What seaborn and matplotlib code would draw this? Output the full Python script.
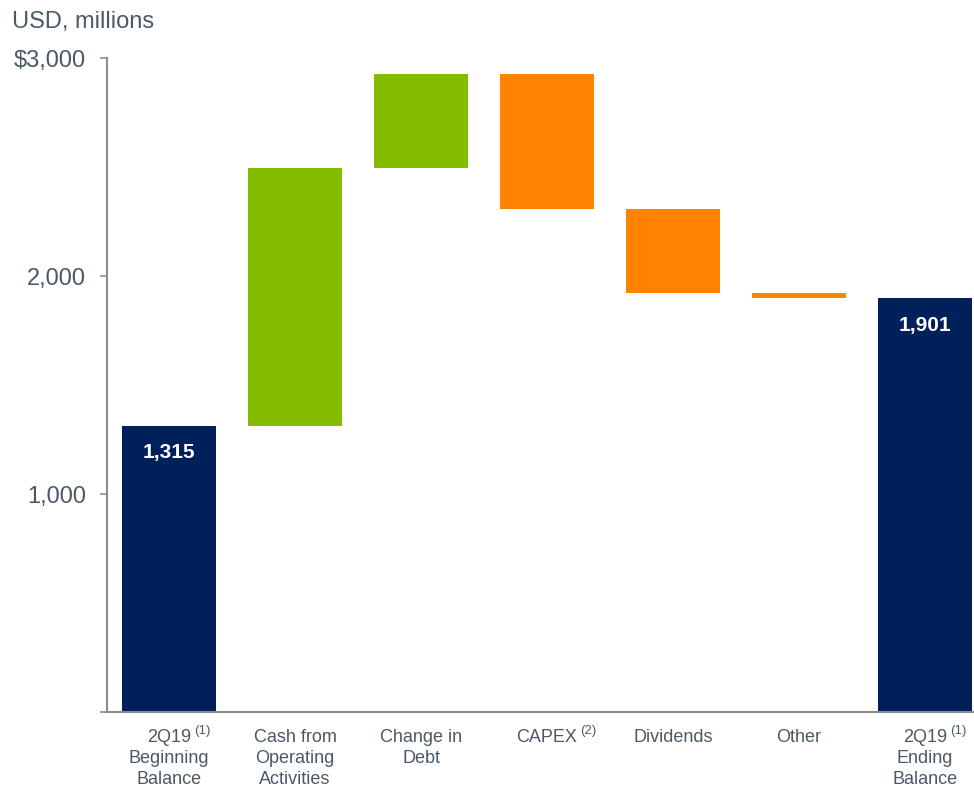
import matplotlib
matplotlib.use("Agg")
import matplotlib.pyplot as plt
import seaborn as sns
import pandas as pd
import numpy as np

categories = ["Beginning", "CFO", "Debt", "CAPEX", "Dividends", "Other", "Ending"]
tick_labels = [
    "2Q19\nBeginning\nBalance",
    "Cash from\nOperating\nActivities",
    "Change in\nDebt",
    "CAPEX",
    "Dividends",
    "Other",
    "2Q19\nEnding\nBalance",
]
superscripts = ["(1)", "", "", "(2)", "", "", "(1)"]
changes = [1315, 1182, 432, -620, -386, -22, 1901]
kinds = ["total", "up", "up", "down", "down", "down", "total"]
value_labels = ["1,315", "", "", "", "", "", "1,901"]

colors = {"total": "#00205B", "up": "#84BD00", "down": "#FF8200"}
text_color = "#4B5966"
spine_color = "#8C8C8C"

# waterfall bottoms / heights
bottoms, heights = [], []
running = 0
for c, k in zip(changes, kinds):
    if k == "total":
        bottoms.append(0)
        heights.append(c)
        running = c
    elif c >= 0:
        bottoms.append(running)
        heights.append(c)
        running += c
    else:
        bottoms.append(running + c)
        heights.append(-c)
        running += c

df = pd.DataFrame({"category": categories, "height": heights,
                   "bottom": bottoms, "kind": kinds})

sns.set_theme(style="white")
plt.rcParams["font.family"] = ["Liberation Sans", "DejaVu Sans"]

fig = plt.figure(figsize=(9.74, 7.86), dpi=100)
ax = fig.add_axes([0.1099, 0.0938, 0.8901, 0.8320])

sns.barplot(data=df, x="category", y="height", order=categories,
            bottom=df["bottom"].values, color=colors["total"],
            width=0.746, errorbar=None, ax=ax, linewidth=0, saturation=1)

for patch, k in zip(ax.patches, kinds):
    patch.set_facecolor(colors[k])
    patch.set_edgecolor("none")

for i, (lab, h, b) in enumerate(zip(value_labels, heights, bottoms)):
    if lab:
        ax.text(i, b + h - 125, lab, ha="center", va="center",
                color="white", fontsize=15, fontweight="bold")

ax.set_xlim(-0.492, 6.389)
ax.set_ylim(0, 3000)
ax.set_yticks([0, 1000, 2000, 3000])
ax.set_yticklabels(["", "1,000", "2,000", "$3,000"])
ax.set_xticks(range(len(categories)))
ax.set_xticklabels(tick_labels, fontsize=13, color=text_color,
                   linespacing=1.3, va="top")
ax.tick_params(axis="y", which="both", left=True, length=5, width=1.2,
               color=spine_color, labelsize=17, labelcolor=text_color, pad=10)
ax.tick_params(axis="x", bottom=False, pad=6)
ax.set_xlabel("")
ax.set_ylabel("")

# superscript footnote markers next to first line of tick labels
fig.canvas.draw()
renderer = fig.canvas.get_renderer()
for lbl, sup, full in zip(ax.get_xticklabels(), superscripts, tick_labels):
    if not sup:
        continue
    first = full.split("\n")[0]
    bb = lbl.get_window_extent(renderer)
    t = fig.text(0, 0, first, fontsize=13)
    wb = t.get_window_extent(renderer)
    t.remove()
    cx = (bb.x0 + bb.x1) / 2
    x_disp = cx + wb.width / 2 + 3
    y_disp = bb.y1 + 4
    xf, yf = fig.transFigure.inverted().transform((x_disp, y_disp))
    fig.text(xf, yf, sup, fontsize=9.5, color=text_color, ha="left", va="top")

for s in ["top", "right"]:
    ax.spines[s].set_visible(False)
for s in ["left", "bottom"]:
    ax.spines[s].set_color(spine_color)
    ax.spines[s].set_linewidth(1.5)

fig.text(12 / 974, 1 - 22 / 786, "USD, millions", fontsize=17,
         color=text_color, ha="left", va="center")

fig.savefig("out.png", dpi=100)
